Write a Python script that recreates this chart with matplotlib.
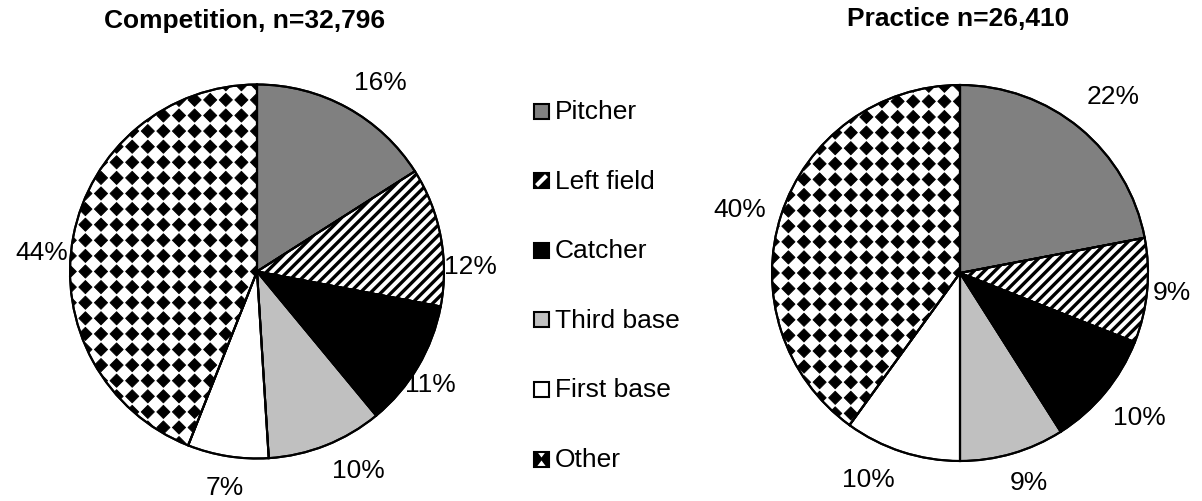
import numpy as np
import matplotlib
matplotlib.use("Agg")
import matplotlib.pyplot as plt
from matplotlib.patches import Rectangle, Polygon, Wedge
from matplotlib.collections import LineCollection, PolyCollection

plt.rcParams['font.family'] = ['Liberation Sans', 'DejaVu Sans']

# ---- data ----
positions = ["Pitcher", "Left field", "Catcher", "Third base", "First base", "Other"]
competition_pct = [16, 12, 11, 10, 7, 44]
practice_pct = [22, 9, 10, 9, 10, 40]
competition_title = "Competition, n=32,796"
practice_title = "Practice n=26,410"

# ---- styling ----
fills = ["#808080", "white", "black", "#C0C0C0", "white", "white"]
patterns = [None, "stripes", None, None, None, "diamonds"]

W, H = 1202, 502
fig = plt.figure(figsize=(W / 100, H / 100), dpi=100)
ax = fig.add_axes([0, 0, 1, 1])
FS = 19
EDGE_LW = 1.5


def stripe_overlay(clip, bbox, spacing=10.4, lw=2.4, zorder=3):
    x0, y0, x1, y1 = bbox
    segs = []
    for c in np.arange(y0 - x1 - spacing, y1 - x0 + spacing, spacing):
        segs.append([(x0, x0 + c), (x1, x1 + c)])
    lc = LineCollection(segs, colors="black", linewidths=lw, zorder=zorder)
    ax.add_collection(lc)
    lc.set_clip_path(clip)


def diamond_overlay(clip, bbox, spacing=15.6, half=6.6, zorder=3, origin=(0, 0)):
    x0, y0, x1, y1 = bbox
    xs = np.arange(origin[0] + np.floor((x0 - origin[0]) / spacing) * spacing, x1 + spacing, spacing)
    ys = np.arange(origin[1] + np.floor((y0 - origin[1]) / spacing) * spacing, y1 + spacing, spacing)
    polys = []
    for x in xs:
        for y in ys:
            polys.append([(x - half, y), (x, y + half), (x + half, y), (x, y - half)])
    pc = PolyCollection(polys, facecolors="black", edgecolors="black", linewidths=0.6,
                        zorder=zorder)
    ax.add_collection(pc)
    pc.set_clip_path(clip)


def draw_pie(values, center, radius, title, title_xy, label_xy):
    wedges, _ = ax.pie(values, colors=fills, startangle=90, counterclock=False,
                       center=center, radius=radius,
                       wedgeprops=dict(edgecolor="black", linewidth=EDGE_LW))
    bbox = (center[0] - radius, center[1] - radius, center[0] + radius, center[1] + radius)
    for w, pat in zip(wedges, patterns):
        w.set_zorder(2)
        if pat == "stripes":
            stripe_overlay(w, bbox)
        elif pat == "diamonds":
            diamond_overlay(w, bbox, origin=center)
        ax.add_patch(Wedge(w.center, w.r, w.theta1, w.theta2, fill=False,
                           edgecolor="black", linewidth=EDGE_LW, zorder=4))
    for v, (lx, ly) in zip(values, label_xy):
        ax.text(lx, ly, f"{v}%", fontsize=FS, ha="center", va="center", zorder=5)
    ax.text(title_xy[0], title_xy[1], title, fontsize=FS, fontweight="bold",
            ha="center", va="center")


# label anchor points (pixel coordinates, origin bottom-left)
comp_label_xy = [(380, 419), (470, 235), (430, 117), (358, 31), (225, 14), (42, 249)]
prac_label_xy = [(1113, 405), (1172, 209), (1139, 84), (1029, 19), (868, 22), (740, 292)]

draw_pie(competition_pct, (257, 229.5), 187, competition_title, (245, 481), comp_label_xy)
draw_pie(practice_pct, (960, 228), 188, practice_title, (958, 483), prac_label_xy)

# ---- legend ----
box = 15
lx = 534
for i, (name, fc, pat) in enumerate(zip(positions, fills, patterns)):
    yc = H - (112 + i * 69.6)
    y0 = yc - box / 2
    if pat == "stripes":
        ax.add_patch(Rectangle((lx, y0), box, box, facecolor="black", edgecolor="none", zorder=3))
        ax.add_patch(Polygon([(lx + 1, y0 + 4), (lx + 4, y0 + 1), (lx + box - 1, y0 + box - 4),
                              (lx + box - 4, y0 + box - 1)],
                             closed=True, facecolor="white", edgecolor="none", zorder=4))
    elif pat == "diamonds":
        ax.add_patch(Rectangle((lx, y0), box, box, facecolor="black", edgecolor="none", zorder=3))
        for ty, d in ((y0 + box, -1), (y0, 1)):
            ax.add_patch(Polygon([(lx + 3, ty), (lx + box - 3, ty), (lx + box / 2, ty + d * 6)],
                                 closed=True, facecolor="white", edgecolor="none", zorder=4))
    else:
        ax.add_patch(Rectangle((lx, y0), box, box, facecolor=fc, edgecolor="none", zorder=3))
    ax.add_patch(Rectangle((lx, y0), box, box, fill=False, edgecolor="black",
                           linewidth=EDGE_LW, zorder=5))
    ax.text(lx + box + 6, yc, name, fontsize=FS, ha="left", va="center")

ax.set_xlim(0, W)
ax.set_ylim(0, H)
ax.set_aspect("auto")
ax.axis("off")

fig.savefig("out.png", dpi=100, facecolor="white")
